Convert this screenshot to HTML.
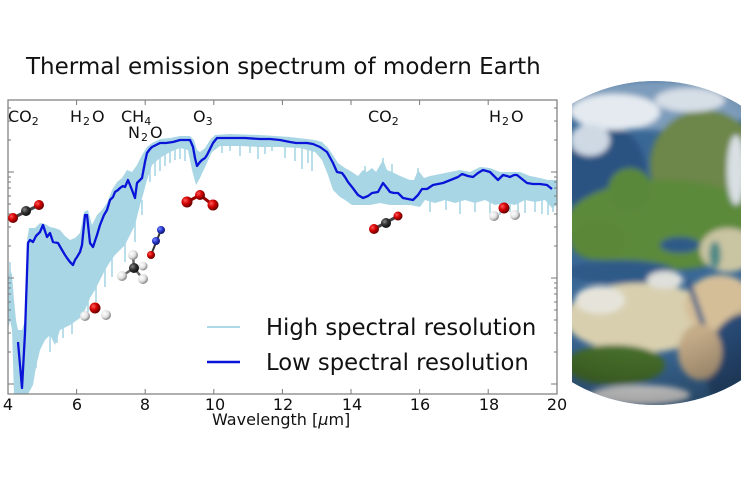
<!DOCTYPE html>
<html>
<head>
<meta charset="utf-8">
<style>
html,body{margin:0;padding:0;background:#fff;}
svg{display:block;}
text{font-family:"DejaVu Sans","Liberation Sans",sans-serif;fill:#111;}
</style>
</head>
<body>
<svg width="741" height="486" viewBox="0 0 741 486" xmlns="http://www.w3.org/2000/svg">
<defs>
  <radialGradient id="gR" cx="35%" cy="35%" r="65%"><stop offset="0" stop-color="#ff5a5a"/><stop offset="0.5" stop-color="#d20000"/><stop offset="1" stop-color="#6a0000"/></radialGradient>
  <radialGradient id="gK" cx="35%" cy="35%" r="65%"><stop offset="0" stop-color="#888"/><stop offset="0.5" stop-color="#333"/><stop offset="1" stop-color="#111"/></radialGradient>
  <radialGradient id="gW" cx="35%" cy="35%" r="65%"><stop offset="0" stop-color="#fff"/><stop offset="0.6" stop-color="#e2e2e2"/><stop offset="1" stop-color="#8a8a8a"/></radialGradient>
  <radialGradient id="gB" cx="35%" cy="35%" r="65%"><stop offset="0" stop-color="#8090ff"/><stop offset="0.5" stop-color="#2a3ad0"/><stop offset="1" stop-color="#101870"/></radialGradient>
  <clipPath id="earthClip">
    <circle cx="655" cy="243" r="162"/>
  </clipPath>
  <clipPath id="earthRect"><rect x="572" y="0" width="200" height="486"/></clipPath>
  <radialGradient id="shade" cx="45%" cy="40%" r="60%"><stop offset="0.7" stop-color="#000" stop-opacity="0"/><stop offset="1" stop-color="#000" stop-opacity="0.3"/></radialGradient>
  <filter id="blur3"><feGaussianBlur stdDeviation="3"/></filter>
  <clipPath id="plotClip"><rect x="8" y="100" width="549" height="294"/></clipPath>
</defs>

<rect width="741" height="486" fill="#fff"/>

<!-- Earth -->
<g clip-path="url(#earthRect)">
<g clip-path="url(#earthClip)">
  <rect x="560" y="70" width="200" height="350" fill="#3a6896"/>
  <g filter="url(#blur3)">
    <!-- top cloud/blue band -->
    <ellipse cx="660" cy="105" rx="100" ry="25" fill="#7d9cbc"/>
    <!-- dark ocean upper left -->
    <ellipse cx="605" cy="175" rx="42" ry="50" fill="#2a5282"/>
    <!-- north russia green-brown -->
    <ellipse cx="705" cy="165" rx="55" ry="55" fill="#6d8648"/>
    <!-- europe green -->
    <ellipse cx="665" cy="225" rx="100" ry="45" fill="#5c8a3a"/>
    <ellipse cx="630" cy="190" rx="22" ry="22" fill="#5a883a"/>
    <ellipse cx="598" cy="240" rx="28" ry="20" fill="#5a8838"/>
    <!-- asia desert -->
    <ellipse cx="728" cy="250" rx="28" ry="22" fill="#c9c4a2"/>
    <ellipse cx="715" cy="255" rx="6" ry="14" fill="#4f8a86"/>
    <!-- mediterranean / black sea -->
    <ellipse cx="620" cy="272" rx="55" ry="12" fill="#2e5a88"/>
    <ellipse cx="680" cy="245" rx="20" ry="8" fill="#2e5a88"/>
    <!-- sahara -->
    <ellipse cx="640" cy="318" rx="75" ry="35" fill="#d8cfae"/>
    <ellipse cx="720" cy="305" rx="35" ry="30" fill="#d4be98"/>
    <!-- red sea -->
    <path d="M688,280 L705,330" stroke="#2e5a88" stroke-width="5"/>
    <!-- central africa green -->
    <ellipse cx="615" cy="365" rx="50" ry="20" fill="#46702c"/>
    <!-- indian ocean -->
    <ellipse cx="748" cy="368" rx="42" ry="55" fill="#2c4f7c"/>
    <ellipse cx="700" cy="352" rx="22" ry="28" fill="#c4ab88"/>
    <!-- clouds -->
    <ellipse cx="615" cy="112" rx="45" ry="18" fill="#e4eaf0"/>
    <ellipse cx="590" cy="140" rx="20" ry="16" fill="#cfd9e4"/>
    <ellipse cx="690" cy="100" rx="35" ry="12" fill="#d6dee6"/>
    <ellipse cx="736" cy="170" rx="9" ry="35" fill="#d9dfe3"/>
    <ellipse cx="640" cy="395" rx="50" ry="10" fill="#e6e6e6"/>
    <ellipse cx="600" cy="300" rx="25" ry="14" fill="#e6e4da"/>
    <ellipse cx="665" cy="280" rx="18" ry="9" fill="#dfe0dc"/>
  </g>
  <circle cx="655" cy="243" r="162" fill="url(#shade)"/>
</g>
</g>

<!-- Title -->
<text x="26" y="74" font-size="23">Thermal emission spectrum of modern Earth</text>

<!-- Plot content -->
<g clip-path="url(#plotClip)">
  <polygon fill="#a9d6e5" points="8,280 10,268 12,275 14,300 16,320 18,330 22,330 25,320 27,240 29,228 35,228 40,223 45,224 50,227 55,228 60,230 65,236 70,240 75,238 80,233 84,212 88,210 92,225 97,215 102,210 107,203 112,190 117,182 122,178 127,170 132,172 137,165 142,155 147,147 152,143 160,139 170,138 180,136 190,136 194,140 197,150 200,152 205,148 210,140 215,135 230,134 260,135 290,137 315,140 322,142 328,148 333,155 338,163 345,168 352,172 358,176 363,170 367,172 372,168 376,172 383,160 387,170 392,172 398,175 405,178 410,180 414,180 418,170 424,178 430,176 440,174 450,172 460,170 470,172 480,167 490,168 500,172 510,172 520,172 530,176 540,178 548,180 557,180 557,205 552,208 545,200 535,202 525,200 515,205 505,203 495,205 485,200 475,203 465,200 455,203 445,200 435,203 425,200 420,207 410,205 400,205 390,205 380,203 370,205 360,205 352,205 345,200 340,197 333,190 328,175 322,160 315,152 300,148 280,147 260,147 240,146 220,146 212,152 206,165 200,178 196,185 192,170 188,150 180,148 170,152 160,158 152,165 147,180 143,195 140,205 135,225 130,235 125,245 120,250 115,255 110,262 105,270 100,280 95,290 90,298 85,310 80,318 70,325 60,330 55,345 50,335 45,340 40,350 36,367 33,385 28,394 14,394 12,330 10,320 8,330"/>
  <g stroke="#a9d6e5" stroke-width="1.6" fill="none">
    <path d="M36,340V368 M57,320V343 M50,330V352 M63,320V338 M72,320V334 M88,290V312 M96,285V302 M105,268V287 M112,258V277 M125,240V262 M135,220V242 M142,200V215"/>
    <path d="M150,160V182 M155,155V176 M160,152V171 M165,150V166 M170,148V163 M175,148V160 M180,146V159 M185,146V161"/>
    <path d="M222,143V153 M230,143V151 M240,143V156 M250,143V153 M258,143V159 M265,143V154 M272,143V151 M285,145V158 M295,146V161 M302,146V169 M308,146V163 M312,146V171"/>
    <path d="M430,198V212 M446,198V210 M460,198V214 M475,198V212 M490,198V214 M500,198V215 M510,198V212 M518,198V216 M525,198V213 M535,198V212 M542,198V214 M548,198V215 M553,198V212"/>
    <path d="M383,175V158 M392,180V164 M365,180V166 M418,185V168 M10,300V262"/>
  </g>
  <polyline fill="none" stroke="#0a14d8" stroke-width="2.3" stroke-linejoin="round" points="18,342 22,388 25,333 28,243 30,240 33,242 36,236 40,232 43,225 47,237 50,233 53,242 58,243 62,250 65,255 67,258 70,262 73,265 75,260 77,257 80,252 82,245 85,215 87,215 90,243 93,247 97,235 100,225 104,215 107,210 110,200 113,197 115,192 118,190 120,188 123,186 125,187 128,180 130,185 132,190 135,198 137,183 140,180 142,178 145,162 147,153 150,149 152,147 156,145 160,143 166,143 173,142 180,140 186,140 190,140 193,147 195,158 197,166 200,162 202,160 205,158 207,155 210,149 213,143 217,138 225,138 233,138 245,138 260,139 270,139 280,140 290,142 296,143 300,143 307,143 313,144 320,147 327,152 333,163 337,172 342,173 345,177 348,182 352,187 358,195 363,198 368,196 372,193 378,192 383,183 387,188 390,192 394,193 398,193 403,198 408,199 413,200 418,195 422,189 427,189 433,185 438,184 443,183 448,181 453,179 458,177 462,174 468,176 473,177 478,173 483,170 490,172 494,176 498,180 503,175 507,176 510,177 514,175 517,175 522,179 527,183 533,184 540,184 547,185 552,189"/>
</g>

<!-- Frame -->
<rect x="8" y="100" width="549" height="294" fill="none" stroke="#7a7a7a" stroke-width="1.2"/>
<g stroke="#7a7a7a" stroke-width="1">
  <path d="M76.6,394v-5 M145.2,394v-5 M213.8,394v-5 M282.4,394v-5 M351,394v-5 M419.6,394v-5 M488.2,394v-5"/>
  <path d="M76.6,100v5 M145.2,100v5 M213.8,100v5 M282.4,100v5 M351,100v5 M419.6,100v5 M488.2,100v5"/>
  <path d="M8,172h6 M8,278h6 M8,384h6 M557,172h-6 M557,278h-6 M557,384h-6"/>
  <path d="M8,246h3 M8,227h3 M8,214h3 M8,204h3 M8,196h3 M8,188h3 M8,182h3 M8,177h3 M8,140h3 M8,121h3 M8,108h3 M8,352h3 M8,333h3 M8,320h3 M8,310h3 M8,302h3 M8,294h3 M8,288h3 M8,283h3"/>
  <path d="M557,246h-3 M557,227h-3 M557,214h-3 M557,204h-3 M557,196h-3 M557,188h-3 M557,182h-3 M557,177h-3 M557,140h-3 M557,121h-3 M557,108h-3 M557,352h-3 M557,333h-3 M557,320h-3 M557,310h-3 M557,302h-3 M557,294h-3 M557,288h-3 M557,283h-3"/>
</g>

<g font-size="16">
  <text x="8" y="122">CO<tspan font-size="11" dy="3">2</tspan></text>
  <text x="70" y="122">H<tspan font-size="11" dy="3" dx="1">2</tspan><tspan dy="-3" dx="2">O</tspan></text>
  <text x="121" y="122">CH<tspan font-size="11" dy="3">4</tspan></text>
  <text x="128" y="138">N<tspan font-size="11" dy="3" dx="1">2</tspan><tspan dy="-3" dx="2">O</tspan></text>
  <text x="193" y="122">O<tspan font-size="11" dy="3">3</tspan></text>
  <text x="368" y="122">CO<tspan font-size="11" dy="3">2</tspan></text>
  <text x="489" y="122">H<tspan font-size="11" dy="3" dx="1">2</tspan><tspan dy="-3" dx="2">O</tspan></text>
</g>

<g>
  <line x1="13" y1="218" x2="39" y2="205" stroke="#444" stroke-width="3"/>
  <circle cx="13" cy="218" r="5" fill="url(#gR)"/>
  <circle cx="26" cy="211" r="5" fill="url(#gK)"/>
  <circle cx="39" cy="205" r="5" fill="url(#gR)"/>
</g>
<g>
  <polyline points="187,202 200,195 213,205" fill="none" stroke="#900" stroke-width="3"/>
  <circle cx="187" cy="202" r="5.5" fill="url(#gR)"/>
  <circle cx="200" cy="195" r="5" fill="url(#gR)"/>
  <circle cx="213" cy="205" r="5.5" fill="url(#gR)"/>
</g>
<g>
  <line x1="151" y1="255" x2="161" y2="230" stroke="#333" stroke-width="2"/>
  <circle cx="151" cy="255" r="4" fill="url(#gR)"/>
  <circle cx="156" cy="241" r="4" fill="url(#gB)"/>
  <circle cx="161" cy="230" r="4" fill="url(#gB)"/>
</g>
<g>
  <g stroke="#666" stroke-width="2.5">
    <line x1="134" y1="268" x2="133" y2="255"/>
    <line x1="134" y1="268" x2="122" y2="276"/>
    <line x1="134" y1="268" x2="143" y2="279"/>
    <line x1="134" y1="268" x2="143" y2="266"/>
  </g>
  <circle cx="143" cy="266" r="4.5" fill="url(#gW)"/>
  <circle cx="133" cy="255" r="5" fill="url(#gW)"/>
  <circle cx="134" cy="268" r="5" fill="url(#gK)"/>
  <circle cx="122" cy="276" r="5" fill="url(#gW)"/>
  <circle cx="143" cy="279" r="5" fill="url(#gW)"/>
</g>
<g>
  <circle cx="95" cy="308" r="5.5" fill="url(#gR)"/>
  <circle cx="85" cy="316" r="5" fill="url(#gW)"/>
  <circle cx="106" cy="315" r="5" fill="url(#gW)"/>
</g>
<g>
  <line x1="374" y1="229" x2="398" y2="216" stroke="#444" stroke-width="3"/>
  <circle cx="374" cy="229" r="5" fill="url(#gR)"/>
  <circle cx="386" cy="223" r="5" fill="url(#gK)"/>
  <circle cx="398" cy="216" r="4.5" fill="url(#gR)"/>
</g>
<g>
  <circle cx="504" cy="208" r="5.5" fill="url(#gR)"/>
  <circle cx="494" cy="216" r="5" fill="url(#gW)"/>
  <circle cx="515" cy="215" r="5" fill="url(#gW)"/>
</g>

<line x1="207" y1="327" x2="240" y2="327" stroke="#add8e6" stroke-width="2"/>
<line x1="207" y1="362" x2="240" y2="362" stroke="#0a14d8" stroke-width="2.5"/>
<text x="266" y="335" font-size="22.7">High spectral resolution</text>
<text x="266" y="370" font-size="22.7">Low spectral resolution</text>

<g font-size="16" text-anchor="middle">
  <text x="8" y="410">4</text>
  <text x="77" y="410">6</text>
  <text x="145" y="410">8</text>
  <text x="215" y="410">10</text>
  <text x="283" y="410">12</text>
  <text x="352" y="410">14</text>
  <text x="420" y="410">16</text>
  <text x="489" y="410">18</text>
  <text x="557" y="410">20</text>
</g>
<text x="212" y="425" font-size="16">Wavelength [<tspan font-style="italic">μ</tspan>m]</text>
</svg>
</body>
</html>
